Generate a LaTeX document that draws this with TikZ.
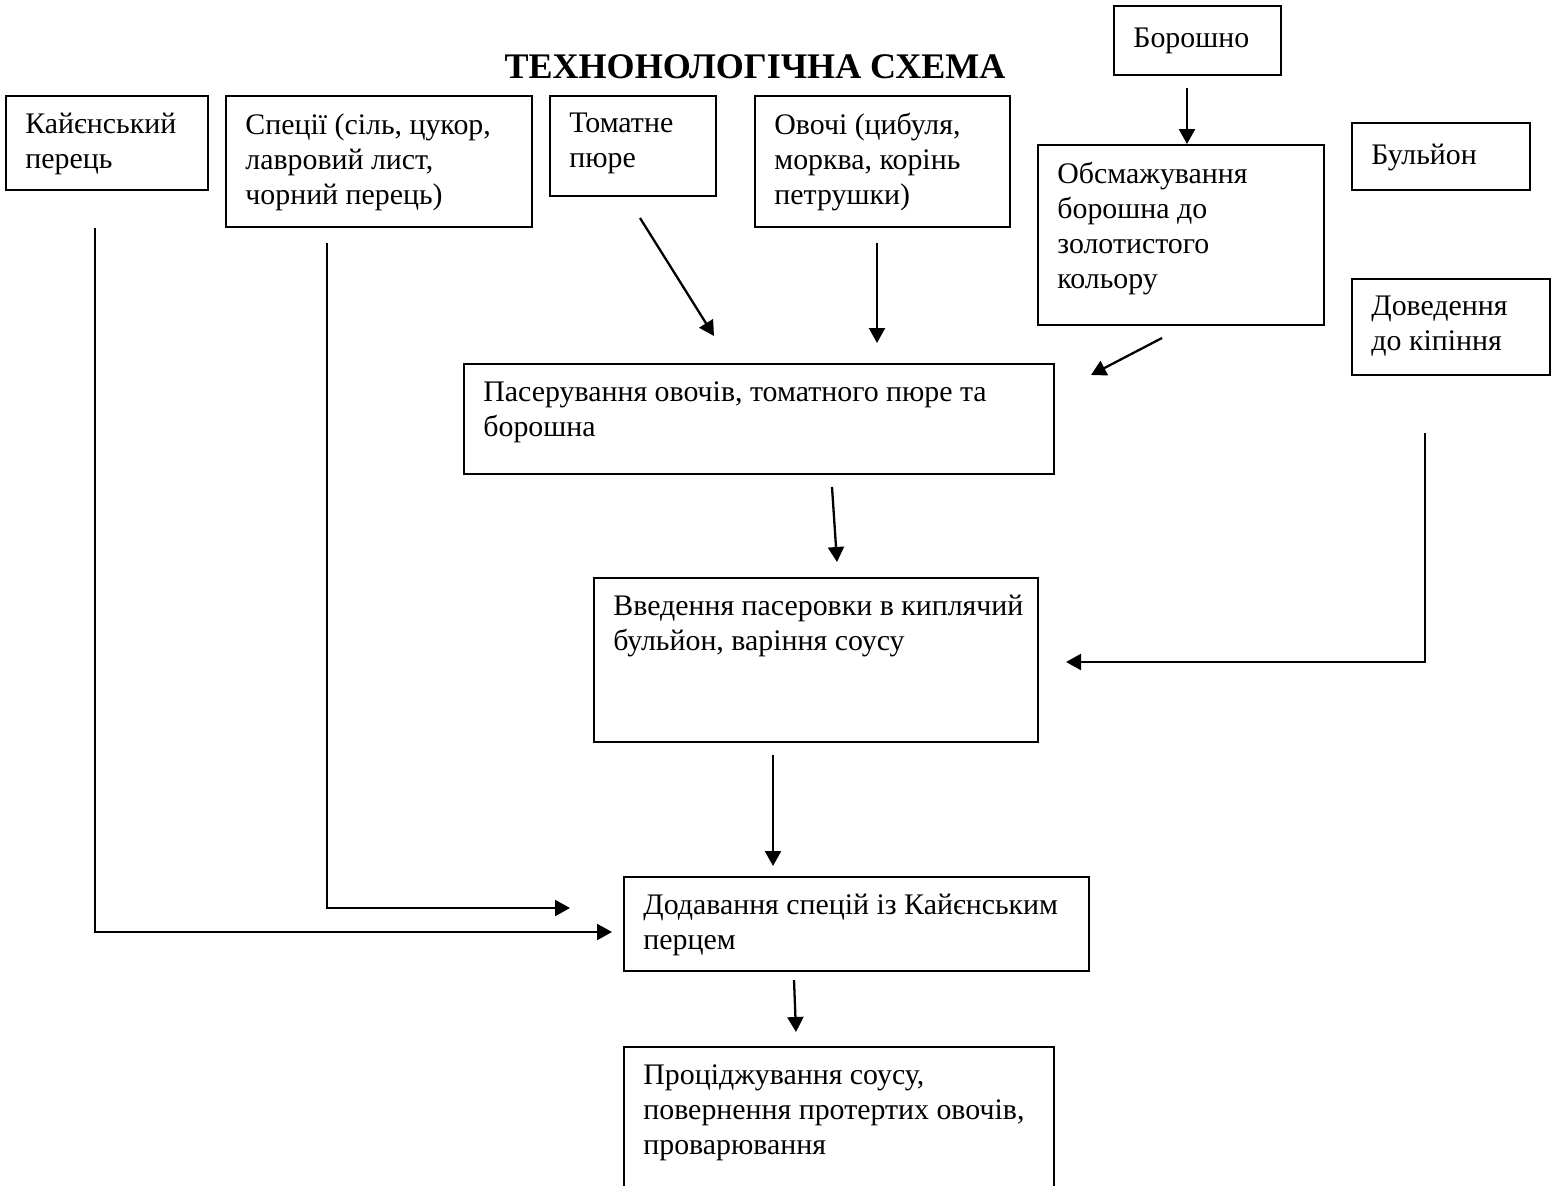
\documentclass[tikz,border=0pt]{standalone}
\usepackage{fontspec}
\setmainfont{Liberation Serif}
\usetikzlibrary{arrows.meta,positioning,fit}

\tikzset{
  box/.style={draw, line width=1.1pt, inner sep=0pt},
  txt/.style={anchor=north west, align=left, inner xsep=0.4cm, inner ysep=0.36cm,
    font=\fontsize{17}{19.9}\selectfont, execute at begin node=\strut},
  flow/.style={-{Triangle[length=0.3cm,width=0.32cm]}, line width=1.3pt}
}

\begin{document}
\begin{tikzpicture}[x=0.02cm,y=-0.02cm]
        \useasboundingbox (0,0) rectangle (1552,1186);
        \node[font=\fontsize{20.5}{24}\selectfont\bfseries] (title) at (755,67) {ТЕХНОНОЛОГІЧНА СХЕМА};
        % top row
        \node[box, fit={(6,96) (208,190)}] (kay) {};
        \node[txt] (kay-t) at (kay.north west) {Кайєнський\\перець};
        \node[box, fit={(226,96) (532,227)}] (spec) {};
        \node[txt] (spec-t) at (spec.north west) {Спеції (сіль, цукор,\\лавровий лист,\\чорний перець)};
        \node[box, fit={(550,96) (716,196)}] (tom) {};
        \node[txt] (tom-t) at (tom.north west) {Томатне\\пюре};
        \node[box, fit={(755,96) (1010,227)}] (ovo) {};
        \node[txt] (ovo-t) at (ovo.north west) {Овочі (цибуля,\\морква, корінь\\петрушки)};
        \node[box, fit={(1114,6) (1281,75)}] (bor) {};
        \node[txt] (bor-t) at (bor.north west) {Борошно};
        \node[box, fit={(1038,145) (1324,325)}] (obs) {};
        \node[txt] (obs-t) at (obs.north west) {Обсмажування\\борошна до\\золотистого\\кольору};
        \node[box, fit={(1352,123) (1530,190)}] (bul) {};
        \node[txt] (bul-t) at (bul.north west) {Бульйон};
        \node[box, fit={(1352,279) (1550,375)}] (dov) {};
        \node[txt] (dov-t) at (dov.north west) {Доведення\\до кіпіння};
        % process
        \node[box, fit={(464,364) (1054,474)}] (pas) {};
        \node[txt] (pas-t) at (pas.north west) {Пасерування овочів, томатного пюре та\\борошна};
        \node[box, fit={(594,578) (1038,742)}] (vve) {};
        \node[txt] (vve-t) at (vve.north west) {Введення пасеровки в киплячий\\бульйон, варіння соусу};
        \node[box, fit={(624,877) (1089,971)}] (dod) {};
        \node[txt] (dod-t) at (dod.north west) {Додавання спецій із Кайєнським\\перцем};
        \node[box, fit={(624,1047) (1054,1192)}] (pro) {};
        \node[txt] (pro-t) at (pro.north west) {Проціджування соусу,\\повернення протертих овочів,\\проварювання};
        % free ends of the arrows
        \coordinate (bor-out) at (1187,88);
        \coordinate (tom-out) at (640,218);
        \coordinate (pas-in1) at (714,336);
        \coordinate (ovo-out) at (877,243);
        \coordinate (pas-in2) at (877,343);
        \coordinate (obs-out) at (1162,338);
        \coordinate (pas-in3) at (1091,375);
        \coordinate (pas-out) at (832,487);
        \coordinate (vve-in1) at (837,562);
        \coordinate (dov-out) at (1425,433);
        \coordinate (vve-in2) at (1066,662);
        \coordinate (vve-out) at (773,755);
        \coordinate (dod-in1) at (773,866);
        \coordinate (kay-out) at (95,228);
        \coordinate (dod-in2) at (612,932);
        \coordinate (spec-out) at (327,243);
        \coordinate (dod-in3) at (570,908);
        \coordinate (dod-out) at (794,980);
        \coordinate (pro-in) at (796,1032);
        \draw[flow] (bor-out) -- (bor-out |- obs.north);
        \draw[flow] (tom-out) -- (pas-in1);
        \draw[flow] (ovo-out) -- (pas-in2);
        \draw[flow] (obs-out) -- (pas-in3);
        \draw[flow] (pas-out) -- (vve-in1);
        \draw[flow] (dov-out) |- (vve-in2);
        \draw[flow] (vve-out) -- (dod-in1);
        \draw[flow] (kay-out) |- (dod-in2);
        \draw[flow] (spec-out) |- (dod-in3);
        \draw[flow] (dod-out) -- (pro-in);
      \end{tikzpicture}
\end{document}
